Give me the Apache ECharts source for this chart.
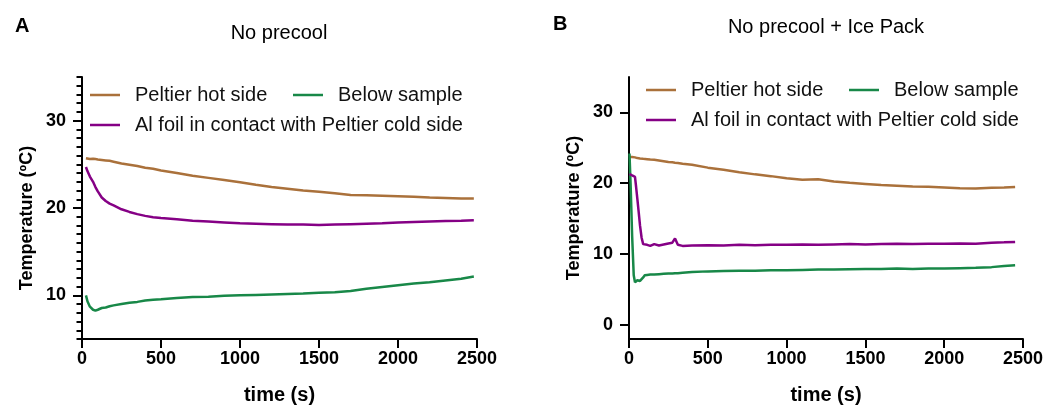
<!DOCTYPE html>
<html>
<head>
<meta charset="utf-8">
<script src="https://cdn.jsdelivr.net/npm/echarts@6/dist/echarts.min.js"></script>
<style>html,body{margin:0;padding:0;background:#fff;}#c{width:1059px;height:410px;}</style>
</head>
<body>
<div id="c"></div>
<script>
// ---- Data ----
const seriesNames = ['Peltier hot side', 'Below sample', 'Al foil in contact with Peltier cold side'];
const panelTitles = ['No precool', 'No precool + Ice Pack'];
const panelLetters = ['A', 'B'];
const xTicks = [0, 500, 1000, 1500, 2000, 2500];
const yMajorA = [10, 20, 30];
const yMajorB = [0, 10, 20, 30];

// Panel A
const timeA = [25, 35, 50, 70, 85, 100, 125, 150, 175, 200, 250, 300, 350, 400, 450, 500, 600, 700, 800, 900, 1000, 1100, 1200, 1300, 1400, 1500, 1600, 1700, 1800, 1900, 2000, 2100, 2200, 2300, 2400, 2480];
const hotA = [25.7, 25.65, 25.6, 25.65, 25.6, 25.55, 25.5, 25.45, 25.4, 25.3, 25.1, 24.95, 24.8, 24.6, 24.5, 24.3, 24.0, 23.7, 23.45, 23.2, 22.95, 22.65, 22.4, 22.2, 22.0, 21.85, 21.7, 21.5, 21.45, 21.4, 21.35, 21.3, 21.2, 21.15, 21.1, 21.1];
const belowA = [10.0, 9.3, 8.7, 8.35, 8.25, 8.35, 8.55, 8.6, 8.75, 8.85, 9.0, 9.15, 9.25, 9.4, 9.5, 9.55, 9.7, 9.8, 9.85, 9.95, 10.0, 10.05, 10.1, 10.15, 10.2, 10.3, 10.35, 10.5, 10.75, 10.95, 11.15, 11.35, 11.5, 11.7, 11.9, 12.15];
const foilA = [24.7, 24.2, 23.6, 23.0, 22.4, 21.9, 21.2, 20.8, 20.5, 20.3, 19.85, 19.55, 19.3, 19.1, 18.95, 18.85, 18.7, 18.55, 18.45, 18.35, 18.25, 18.2, 18.15, 18.1, 18.1, 18.05, 18.1, 18.15, 18.2, 18.25, 18.35, 18.4, 18.45, 18.5, 18.55, 18.6];

// Panel B
const timeB = [3, 10, 20, 30, 38, 45, 53, 62, 70, 80, 90, 100, 115, 135, 160, 190, 220, 250, 275, 292, 310, 340, 400, 500, 600, 700, 800, 900, 1000, 1100, 1200, 1300, 1400, 1500, 1600, 1700, 1800, 1900, 2000, 2100, 2200, 2300, 2380, 2450];
const hotB = [23.7, 23.65, 23.7, 23.6, 23.65, 23.6, 23.55, 23.6, 23.5, 23.5, 23.45, 23.45, 23.4, 23.35, 23.3, 23.2, 23.1, 23.0, 22.95, 22.9, 22.85, 22.75, 22.6, 22.2, 21.9, 21.55, 21.25, 21.0, 20.7, 20.5, 20.55, 20.25, 20.05, 19.9, 19.75, 19.65, 19.55, 19.5, 19.4, 19.3, 19.25, 19.35, 19.4, 19.45];
const belowB = [24.2, 20.0, 12.5, 7.0, 6.0, 5.95, 6.3, 6.4, 6.2, 6.3, 6.7, 7.0, 7.05, 7.1, 7.1, 7.15, 7.2, 7.25, 7.25, 7.3, 7.3, 7.35, 7.45, 7.55, 7.6, 7.65, 7.65, 7.7, 7.7, 7.75, 7.8, 7.8, 7.85, 7.9, 7.9, 7.95, 7.9, 7.95, 7.95, 8.0, 8.05, 8.15, 8.3, 8.4];
const foilB = [21.3, 21.2, 21.1, 21.0, 20.9, 19.5, 17.8, 15.8, 14.0, 12.3, 11.4, 11.2, 11.3, 11.15, 11.4, 11.2, 11.35, 11.5, 11.6, 12.2, 11.3, 11.15, 11.2, 11.25, 11.2, 11.3, 11.25, 11.3, 11.3, 11.35, 11.3, 11.35, 11.4, 11.35, 11.4, 11.45, 11.4, 11.45, 11.45, 11.5, 11.45, 11.6, 11.65, 11.7];

// ---- Style ----
const FONT = '"Liberation Sans", Arial, Helvetica, sans-serif';
const colors = { hot: '#AA713B', below: '#188848', foil: '#850085' };

function pairs(t, v) { return t.map((x, i) => [x, v[i]]); }
const plain = v => String(v);

function xAxisFor(grid) {
  return {
    type: 'value', gridIndex: grid, min: 0, max: 2500, interval: 500,
    name: 'time (s)', nameLocation: 'middle', nameGap: 46,
    nameTextStyle: { fontFamily: FONT, fontWeight: 'bold', fontSize: 20, color: '#000' },
    axisLine: { show: true, onZero: false, lineStyle: { color: '#000', width: 2 } },
    axisTick: { show: true, inside: false, length: 9, lineStyle: { color: '#000', width: 2 } },
    axisLabel: { margin: 11, fontFamily: FONT, fontWeight: 'bold', fontSize: 18, color: '#000',
      customValues: xTicks, formatter: plain },
    splitLine: { show: false }
  };
}

function lineSeries(name, data, color, xi, yi) {
  return {
    type: 'line', name: name, data: data, xAxisIndex: xi, yAxisIndex: yi,
    showSymbol: false, symbol: 'none', smooth: false,
    lineStyle: { color: color, width: 2.5 }, itemStyle: { color: color },
    emphasis: { disabled: true }, animation: false
  };
}

function legendAt(name, left, top) {
  return {
    data: [name], left: left, top: top, orient: 'horizontal', padding: 0,
    icon: 'rect', itemWidth: 30, itemHeight: 2.5, selectedMode: false,
    textStyle: { fontFamily: FONT, fontSize: 20, color: '#111', padding: [0, 0, 0, 10] }
  };
}

const option = {
  backgroundColor: '#fff',
  animation: false,
  grid: [
    { left: 82, right: 1059 - 477, top: 77, bottom: 410 - 341, containLabel: false },
    { left: 629, right: 1059 - 1023, top: 77, bottom: 410 - 341, containLabel: false }
  ],
  xAxis: [xAxisFor(0), xAxisFor(1)],
  yAxis: [
    { // Panel A major ticks + labels
      type: 'value', gridIndex: 0, min: 5, max: 35, interval: 1,
      name: 'Temperature (ºC)', nameLocation: 'middle', nameGap: 46,
      nameTextStyle: { fontFamily: FONT, fontWeight: 'bold', fontSize: 18, color: '#000', padding: [0, 20, 0, 0] },
      axisLine: { show: true, onZero: false, lineStyle: { color: '#000', width: 2 } },
      axisTick: { show: true, length: 9, customValues: yMajorA, lineStyle: { color: '#000', width: 2 } },
      axisLabel: { margin: 16, fontFamily: FONT, fontWeight: 'bold', fontSize: 18, color: '#000', customValues: yMajorA, formatter: plain },
      splitLine: { show: false }
    },
    { // Panel A minor ticks
      type: 'value', gridIndex: 0, min: 5, max: 35, interval: 1, position: 'left',
      axisLine: { show: false },
      axisTick: { show: true, length: 5.5, lineStyle: { color: '#000', width: 2 } },
      axisLabel: { show: false },
      splitLine: { show: false }
    },
    { // Panel B
      type: 'value', gridIndex: 1, min: -2, max: 35, interval: 1,
      name: 'Temperature (ºC)', nameLocation: 'middle', nameGap: 46,
      nameTextStyle: { fontFamily: FONT, fontWeight: 'bold', fontSize: 18, color: '#000' },
      axisLine: { show: true, onZero: false, lineStyle: { color: '#000', width: 2 } },
      axisTick: { show: true, length: 9, customValues: yMajorB, lineStyle: { color: '#000', width: 2 } },
      axisLabel: { margin: 16, fontFamily: FONT, fontWeight: 'bold', fontSize: 18, color: '#000', customValues: yMajorB, formatter: plain },
      splitLine: { show: false }
    }
  ],
  legend: [
    legendAt(seriesNames[0], 90, 85),
    legendAt(seriesNames[1], 293, 85),
    legendAt(seriesNames[2], 90, 115),
    legendAt(seriesNames[0], 646, 80),
    legendAt(seriesNames[1], 849, 80),
    legendAt(seriesNames[2], 646, 110)
  ],
  graphic: [
    { type: 'text', x: 15, y: 26.4, style: { text: panelLetters[0], font: 'bold 20px ' + FONT, fill: '#000', textVerticalAlign: 'middle' } },
    { type: 'text', x: 553, y: 24.8, style: { text: panelLetters[1], font: 'bold 20px ' + FONT, fill: '#000', textVerticalAlign: 'middle' } },
    { type: 'text', x: 279, y: 33.8, style: { text: panelTitles[0], font: '20px ' + FONT, fill: '#000', textAlign: 'center', textVerticalAlign: 'middle' } },
    { type: 'text', x: 826, y: 27.4, style: { text: panelTitles[1], font: '20px ' + FONT, fill: '#000', textAlign: 'center', textVerticalAlign: 'middle' } }
  ],
  series: [
    lineSeries(seriesNames[0], pairs(timeA, hotA), colors.hot, 0, 0),
    lineSeries(seriesNames[1], pairs(timeA, belowA), colors.below, 0, 0),
    lineSeries(seriesNames[2], pairs(timeA, foilA), colors.foil, 0, 0),
    lineSeries(seriesNames[0], pairs(timeB, hotB), colors.hot, 1, 2),
    lineSeries(seriesNames[1], pairs(timeB, belowB), colors.below, 1, 2),
    lineSeries(seriesNames[2], pairs(timeB, foilB), colors.foil, 1, 2)
  ]
};

const chart = echarts.init(document.getElementById('c'), null, { renderer: 'canvas' });
chart.setOption(option);
</script>
</body>
</html>
